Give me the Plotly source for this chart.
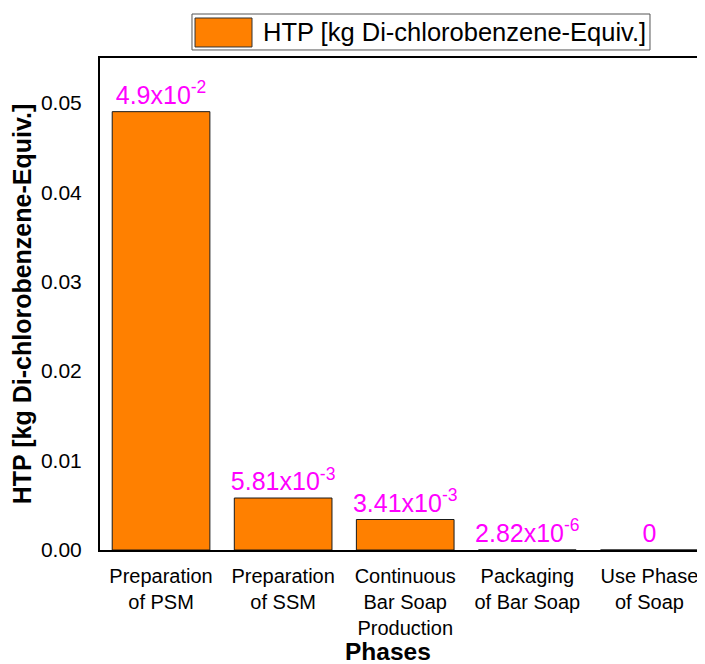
import plotly.graph_objects as go

phases = [
    "Preparation<br>of PSM",
    "Preparation<br>of SSM",
    "Continuous<br>Bar Soap<br>Production",
    "Packaging<br>of Bar Soap",
    "Use Phase<br>of Soap",
]
htp = [4.9e-2, 5.81e-3, 3.41e-3, 2.82e-6, 0]
htp_labels = ["4.9x10<sup>-2</sup>", "5.81x10<sup>-3</sup>", "3.41x10<sup>-3</sup>",
              "2.82x10<sup>-6</sup>", "0"]
y_ticks = [0.0, 0.01, 0.02, 0.03, 0.04, 0.05]
series_name = "HTP [kg Di-chlorobenzene-Equiv.]"

bar_color = "#FF8000"

fig = go.Figure(go.Bar(
    x=phases,
    y=htp,
    text=htp_labels,
    textposition="outside",
    constraintext="none",
    cliponaxis=False,
    textfont=dict(color="#FF00FF", size=25),
    marker=dict(color=bar_color, line=dict(color="#1a1a1a", width=1)),
    width=0.8,
    name=series_name,
    showlegend=False,
))

# legend drawn by hand so the swatch is as large as in the original
fig.add_shape(type="rect", xref="paper", yref="paper",
              x0=0.1513, x1=0.9046, y0=1.0163, y1=1.0894,
              line=dict(color="#555555", width=1), fillcolor="white")
fig.add_shape(type="rect", xref="paper", yref="paper",
              x0=0.1563, x1=0.25, y0=1.0224, y1=1.0813,
              line=dict(color="#333333", width=1), fillcolor=bar_color)
fig.add_annotation(text=series_name, xref="paper", yref="paper",
                   x=0.2648, y=1.0528, xanchor="left", yanchor="middle",
                   showarrow=False, font=dict(size=25.5))

# x-axis title
fig.add_annotation(text="<b>Phases</b>", xref="paper", yref="paper",
                   x=0.4737, y=-0.2073, xanchor="center", yanchor="middle",
                   showarrow=False, borderpad=0, font=dict(size=24.5))

fig.update_layout(
    width=700,
    height=656,
    font=dict(family="Liberation Sans, Arial, sans-serif", size=21, color="black"),
    plot_bgcolor="white",
    paper_bgcolor="white",
    margin=dict(l=92, r=0, t=50, b=114),
    xaxis=dict(
        range=[-0.5, 4.48],
        showline=True, linecolor="black", linewidth=2,
        mirror=True, ticks="outside", ticklen=7, tickcolor="rgba(0,0,0,0)",
        tickfont=dict(size=20),
    ),
    yaxis=dict(
        range=[0, 0.055],
        tickvals=y_ticks,
        tickformat=".2f",
        showline=True, linecolor="black", linewidth=2,
        showgrid=False, zeroline=False,
        ticks="outside", ticklen=12, tickcolor="rgba(0,0,0,0)",
        title=dict(text="<b>" + series_name + "</b>", font=dict(size=25), standoff=2),
    ),
)

fig.write_html("out.html")
